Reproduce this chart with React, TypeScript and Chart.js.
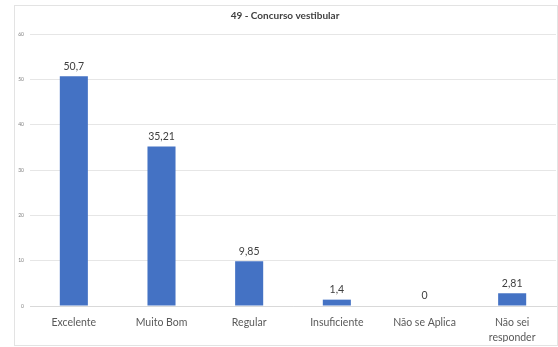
import React, { useEffect, useRef } from "react";
import { Chart, registerables } from "chart.js";

Chart.register(...registerables);

const categories: (string | string[])[] = ["Excelente", "Muito Bom", "Regular", "Insuficiente", "Não se Aplica", ["Não sei", "responder"]];
const values: number[] = [50.7, 35.21, 9.85, 1.4, 0, 2.81];
const valueLabels: string[] = ["50,7", "35,21", "9,85", "1,4", "0", "2,81"];
const title = "49 - Concurso vestibular";

const FONT = "Lato, 'Open Sans', sans-serif";

const valueLabelPlugin = {
  id: "valueLabels",
  afterDatasetsDraw(chart: any) {
    const { ctx } = chart;
    const meta = chart.getDatasetMeta(0);
    ctx.save();
    ctx.font = `10.5px ${FONT}`;
    ctx.fillStyle = "#404040";
    ctx.textAlign = "center";
    ctx.textBaseline = "middle";
    meta.data.forEach((bar: any, i: number) => {
      ctx.fillText(valueLabels[i], bar.x, bar.y - 10);
    });
    ctx.restore();
  },
};

export default function App() {
  const ref = useRef<HTMLCanvasElement>(null);
  useEffect(() => {
    if (!ref.current) return;
    const chart = new Chart(ref.current, {
      type: "bar",
      data: {
        labels: categories,
        datasets: [
          {
            data: values,
            backgroundColor: "#4472C4",
            borderWidth: 0,
            barPercentage: 0.32,
            categoryPercentage: 1,
          },
        ],
      },
      options: {
        responsive: false,
        animation: false,
        maintainAspectRatio: false,
        layout: { padding: { left: 14, right: 2, top: 10, bottom: 5 } },
        plugins: {
          legend: { display: false },
          tooltip: { enabled: false },
          title: {
            display: true,
            text: title,
            color: "#404040",
            font: { family: FONT, size: 10, weight: "bold" },
            padding: { top: 0, bottom: 12 },
          },
        },
        scales: {
          x: {
            grid: { display: false, drawTicks: false },
            border: { display: true, color: "#d9d9d9" },
            ticks: {
              color: "#595959",
              font: { family: FONT, size: 10.5, lineHeight: 1.35 },
              padding: 10,
              maxRotation: 0,
              autoSkip: false,
            },
            afterFit(scale: any) {
              scale.height = 36;
            },
          },
          y: {
            min: 0,
            max: 60,
            grid: { color: "#e6e6e6", drawTicks: false },
            border: { display: false },
            ticks: {
              stepSize: 10,
              color: "#7f7f7f",
              font: { family: FONT, size: 5 },
              padding: 6,
            },
            afterFit(scale: any) {
              scale.width = 16;
            },
          },
        },
      },
      plugins: [valueLabelPlugin],
    });
    return () => chart.destroy();
  }, []);
  return (
    <div style={{ position: "fixed", left: 0, top: 0, width: 558, height: 347, background: "#fff" }}>
      <div
        style={{
          position: "absolute",
          left: 14,
          top: 5,
          width: 544,
          height: 341,
          border: "1px solid #e3e3e3",
          boxSizing: "border-box",
        }}
      />
      <canvas ref={ref} width={558} height={347} style={{ position: "absolute", left: 0, top: 0 }} />
    </div>
  );
}
